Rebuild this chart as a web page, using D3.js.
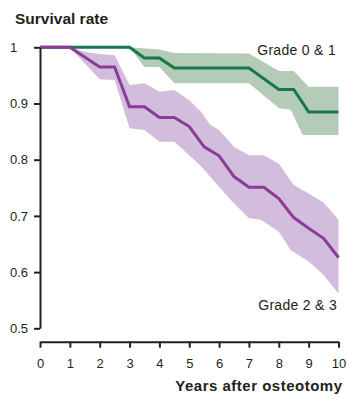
<!DOCTYPE html>
<html>
<head>
<meta charset="utf-8">
<script src="https://cdn.jsdelivr.net/npm/d3@7"></script>
<style>
  body { margin: 0; background: #fff; }
  svg text { font-family: "Liberation Sans", Arial, sans-serif; fill: #231f20; }
</style>
</head>
<body>
<div id="chart"></div>
<script>
// data: [years, survival]
var greenLine = [[0,1],[3,1],[3.5,0.981],[4,0.981],[4.5,0.963],[7,0.963],[8,0.925],[8.5,0.925],[9,0.885],[10,0.885]];
var greenUpper = [[3,1],[4,0.996],[4.5,0.99],[7,0.989],[8,0.958],[8.5,0.958],[9,0.93],[10,0.93]];
var greenLower = [[3,1],[3.5,0.965],[4,0.965],[4.5,0.936],[7,0.936],[8,0.892],[8.4,0.889],[8.8,0.844],[10,0.844]];

var purpleLine = [[0,1],[1,1],[2,0.965],[2.5,0.965],[3,0.894],[3.5,0.894],[4,0.875],[4.5,0.875],[5,0.859],[5.5,0.823],[6,0.807],[6.5,0.77],[7,0.751],[7.5,0.751],[8,0.731],[8.5,0.697],[9,0.678],[9.5,0.66],[10,0.626]];
var purpleUpper = [[1,1],[1.5,0.992],[2,0.988],[2.5,0.986],[2.7,0.965],[3,0.933],[3.5,0.936],[4,0.921],[4.5,0.924],[5,0.906],[5.4,0.885],[5.7,0.862],[6,0.853],[6.5,0.823],[7,0.808],[7.5,0.808],[8,0.793],[8.5,0.755],[9,0.74],[9.5,0.724],[10,0.693]];
var purpleLower = [[1,1],[1.5,0.971],[2,0.943],[2.5,0.942],[3,0.856],[3.5,0.853],[4,0.832],[4.5,0.832],[5,0.808],[5.4,0.788],[5.8,0.764],[6.4,0.728],[7,0.696],[7.4,0.693],[8,0.672],[8.4,0.639],[9,0.619],[9.5,0.595],[10,0.562]];

var yTicks = [0.5, 0.6, 0.7, 0.8, 0.9, 1];
var xTicks = [0, 1, 2, 3, 4, 5, 6, 7, 8, 9, 10];

var width = 348, height = 394;

var x = d3.scaleLinear().domain([0, 10]).range([40, 338.5]);
var y = d3.scaleLinear().domain([0.5, 1]).range([328.3, 47.3]);

var line = d3.line()
    .x(function(d) { return x(d[0]); })
    .y(function(d) { return y(d[1]); });

var svg = d3.select("#chart").append("svg")
    .attr("width", width)
    .attr("height", height);

// bands: upper edge then lower edge reversed
function band(upper, lower) {
  return line(upper.concat(lower.slice().reverse())) + "Z";
}

svg.append("path").attr("d", band(greenUpper, greenLower)).attr("fill", "#b4cbb8");
svg.append("path").attr("d", band(purpleUpper, purpleLower)).attr("fill", "#d3bddc");

svg.append("path").datum(greenLine).attr("d", line)
    .attr("fill", "none").attr("stroke", "#18784a").attr("stroke-width", 3);
svg.append("path").datum(purpleLine).attr("d", line)
    .attr("fill", "none").attr("stroke", "#8c3b97").attr("stroke-width", 3);

// y axis
var yAxis = svg.append("g")
    .attr("transform", "translate(40,0)")
    .call(d3.axisLeft(y).tickValues(yTicks).tickSize(6).tickSizeOuter(0)
      .tickFormat(function(d) { return d === 1 ? "1" : d3.format(".1f")(d); }));
yAxis.select(".domain").attr("stroke", "#231f20").attr("stroke-width", 2);
yAxis.selectAll(".tick line").attr("stroke", "#231f20").attr("stroke-width", 2);
yAxis.selectAll(".tick text")
    .attr("x", -30).attr("text-anchor", "start")
    .style("font-size", "13px").style("font-family", null);

// x axis
var xAxis = svg.append("g")
    .attr("transform", "translate(0,341.7)")
    .call(d3.axisBottom(x).tickValues(xTicks).tickSize(6).tickSizeOuter(0));
xAxis.select(".domain").attr("stroke", "#231f20").attr("stroke-width", 2);
xAxis.selectAll(".tick line").attr("stroke", "#231f20").attr("stroke-width", 2);
xAxis.selectAll(".tick text")
    .attr("y", 17)
    .style("font-size", "13px").style("font-family", null);

// titles and labels
svg.append("text").attr("x", 15).attr("y", 24)
    .style("font-size", "15.5px").style("font-weight", "bold")
    .text("Survival rate");

svg.append("text").attr("x", 342.5).attr("y", 391).attr("text-anchor", "end")
    .style("font-size", "15px").style("font-weight", "bold").style("letter-spacing", "0.5px")
    .text("Years after osteotomy");

svg.append("text").attr("x", 336).attr("y", 55).attr("text-anchor", "end")
    .style("font-size", "14px").style("letter-spacing", "0.3px")
    .text("Grade 0 & 1");

svg.append("text").attr("x", 337).attr("y", 309.5).attr("text-anchor", "end")
    .style("font-size", "14px").style("letter-spacing", "0.3px")
    .text("Grade 2 & 3");
</script>
</body>
</html>
